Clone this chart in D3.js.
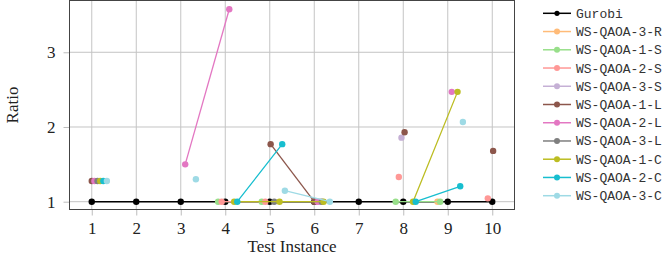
<!DOCTYPE html>
<html>
<head>
<meta charset="utf-8">
<script src="https://cdn.jsdelivr.net/npm/d3@7"></script>
<style>
  body { margin: 0; background: #fff; }
  svg { display: block; }
</style>
</head>
<body>
<svg width="670" height="257"></svg>
<script>
// ticks
const xTicks = [1, 2, 3, 4, 5, 6, 7, 8, 9, 10];
const yTicks = [1, 2, 3];

// Gurobi: every instance at ratio 1
const instances = [1, 2, 3, 4, 5, 6, 7, 8, 9, 10];
const gurobiRatio = [1, 1, 1, 1, 1, 1, 1, 1, 1, 1];

// other solvers: [x position (instance + offset), ratio], null = no result
const ws3R = [null, null, null, null, null, null, null, null, [8.77, 1], null];
const ws1S = [null, null, null, [3.84, 1], [4.82, 1], null, null, [7.83, 1], [8.83, 1], null];
const ws2S = [null, null, null, [3.92, 1], [4.9, 1], null, null, [7.9, 1.33], null, [9.9, 1.045]];
const ws3S = [null, null, null, null, null, [6.12, 1], null, [7.96, 1.857], null, null];
const ws1L = [[1.0, 1.277], null, null, null, [5.02, 1.77], [6.0, 1], null, [8.03, 1.93], null, [10.02, 1.68]];
const ws2L = [[1.06, 1.277], null, [3.1, 1.5], [4.09, 3.576], null, [6.08, 1], null, null, [9.09, 2.47], null];
const ws3L = [[1.13, 1.277], null, null, null, [5.1, 1], [6.17, 1], null, null, null, null];
const ws1C = [[1.19, 1.277], null, null, [4.2, 1], [5.22, 1], [6.21, 1], null, [8.22, 1], [9.22, 2.47], null];
const ws2C = [[1.26, 1.277], null, null, [4.27, 1], [5.28, 1.77], null, null, [8.28, 1], [9.28, 1.206], null];
const ws3C = [[1.34, 1.277], null, [3.34, 1.3], null, [5.34, 1.147], [6.35, 1], null, null, [9.34, 2.067], null];

const names = ['Gurobi', 'WS-QAOA-3-R', 'WS-QAOA-1-S', 'WS-QAOA-2-S', 'WS-QAOA-3-S',
  'WS-QAOA-1-L', 'WS-QAOA-2-L', 'WS-QAOA-3-L', 'WS-QAOA-1-C', 'WS-QAOA-2-C', 'WS-QAOA-3-C'];
const colors = ['#000000', '#ffbb78', '#98df8a', '#ff9896', '#c5b0d5',
  '#8c564b', '#e377c2', '#7f7f7f', '#bcbd22', '#17becf', '#9edae5'];

const gurobi = instances.map((d, i) => [d, gurobiRatio[i]]);
const allSeries = [gurobi, ws3R, ws1S, ws2S, ws3S, ws1L, ws2L, ws3L, ws1C, ws2C, ws3C];

const pL = 69.5, pR = 514.5, pT = 0.5, pB = 209.5;

const x = d3.scaleLinear().domain([0.5, 10.5]).range([pL, pR]);
const y = d3.scaleLinear().domain([0.8956, 3.693]).range([pB, pT]);

const svg = d3.select('svg');
const serif = '"Liberation Serif", "DejaVu Serif", serif';

// grid
svg.append('g').selectAll('line').data(xTicks).join('line')
  .attr('x1', d => x(d)).attr('x2', d => x(d))
  .attr('y1', pT).attr('y2', pB)
  .attr('stroke', '#c4c4c4').attr('stroke-width', 1);
svg.append('g').selectAll('line').data(yTicks).join('line')
  .attr('x1', pL).attr('x2', pR)
  .attr('y1', d => y(d)).attr('y2', d => y(d))
  .attr('stroke', '#c4c4c4').attr('stroke-width', 1);

// axes
const xAxis = svg.append('g')
  .attr('transform', `translate(0,${pB})`)
  .call(d3.axisBottom(x).tickValues(xTicks).tickFormat(d3.format('d')).tickSize(6).tickPadding(6));
const yAxis = svg.append('g')
  .attr('transform', `translate(${pL},0)`)
  .call(d3.axisLeft(y).tickValues(yTicks).tickFormat(d3.format('d')).tickSize(6).tickPadding(8));
[xAxis, yAxis].forEach(a => {
  a.select('.domain').remove();
  a.selectAll('.tick line').attr('stroke', '#bdbdbd');
  a.selectAll('.tick text')
    .style('font-family', serif)
    .style('font-size', '17px')
    .attr('fill', '#222');
});

// series
const line = d3.line()
  .defined(d => d !== null)
  .x(d => x(d[0]))
  .y(d => y(d[1]));

allSeries.forEach((s, i) => {
  const g = svg.append('g');
  g.append('path')
    .datum(s)
    .attr('d', line)
    .attr('fill', 'none')
    .attr('stroke', colors[i])
    .attr('stroke-width', i === 0 ? 1.6 : 1.3);
  g.selectAll('circle').data(s.filter(d => d !== null)).join('circle')
    .attr('cx', d => x(d[0]))
    .attr('cy', d => y(d[1]))
    .attr('r', 3.2)
    .attr('fill', colors[i]);
});

// frame
svg.append('rect')
  .attr('x', pL).attr('y', pT)
  .attr('width', pR - pL).attr('height', pB - pT)
  .attr('fill', 'none').attr('stroke', '#444').attr('stroke-width', 1);

// axis titles
svg.append('text')
  .attr('x', (pL + pR) / 2).attr('y', 252)
  .attr('text-anchor', 'middle')
  .style('font-family', serif).style('font-size', '17px')
  .attr('fill', '#222')
  .text('Test Instance');
svg.append('text')
  .attr('transform', `translate(18,${(pT + pB) / 2}) rotate(-90)`)
  .attr('text-anchor', 'middle')
  .style('font-family', serif).style('font-size', '17px')
  .attr('fill', '#222')
  .text('Ratio');

// legend
const legend = svg.append('g').selectAll('g').data(names).join('g')
  .attr('transform', (d, i) => `translate(0,${13.3 + i * 18.24})`);
legend.append('line')
  .attr('x1', 543).attr('x2', 571)
  .attr('stroke', (d, i) => colors[i]).attr('stroke-width', 1.5);
legend.append('circle')
  .attr('cx', 557).attr('r', (d, i) => i === 0 ? 2.6 : 3)
  .attr('fill', (d, i) => colors[i]);
legend.append('text')
  .attr('x', 576).attr('y', 4.5)
  .style('font-family', '"Liberation Mono", "DejaVu Sans Mono", monospace')
  .style('font-size', '13px')
  .attr('fill', '#333')
  .text(d => d);
</script>
</body>
</html>
